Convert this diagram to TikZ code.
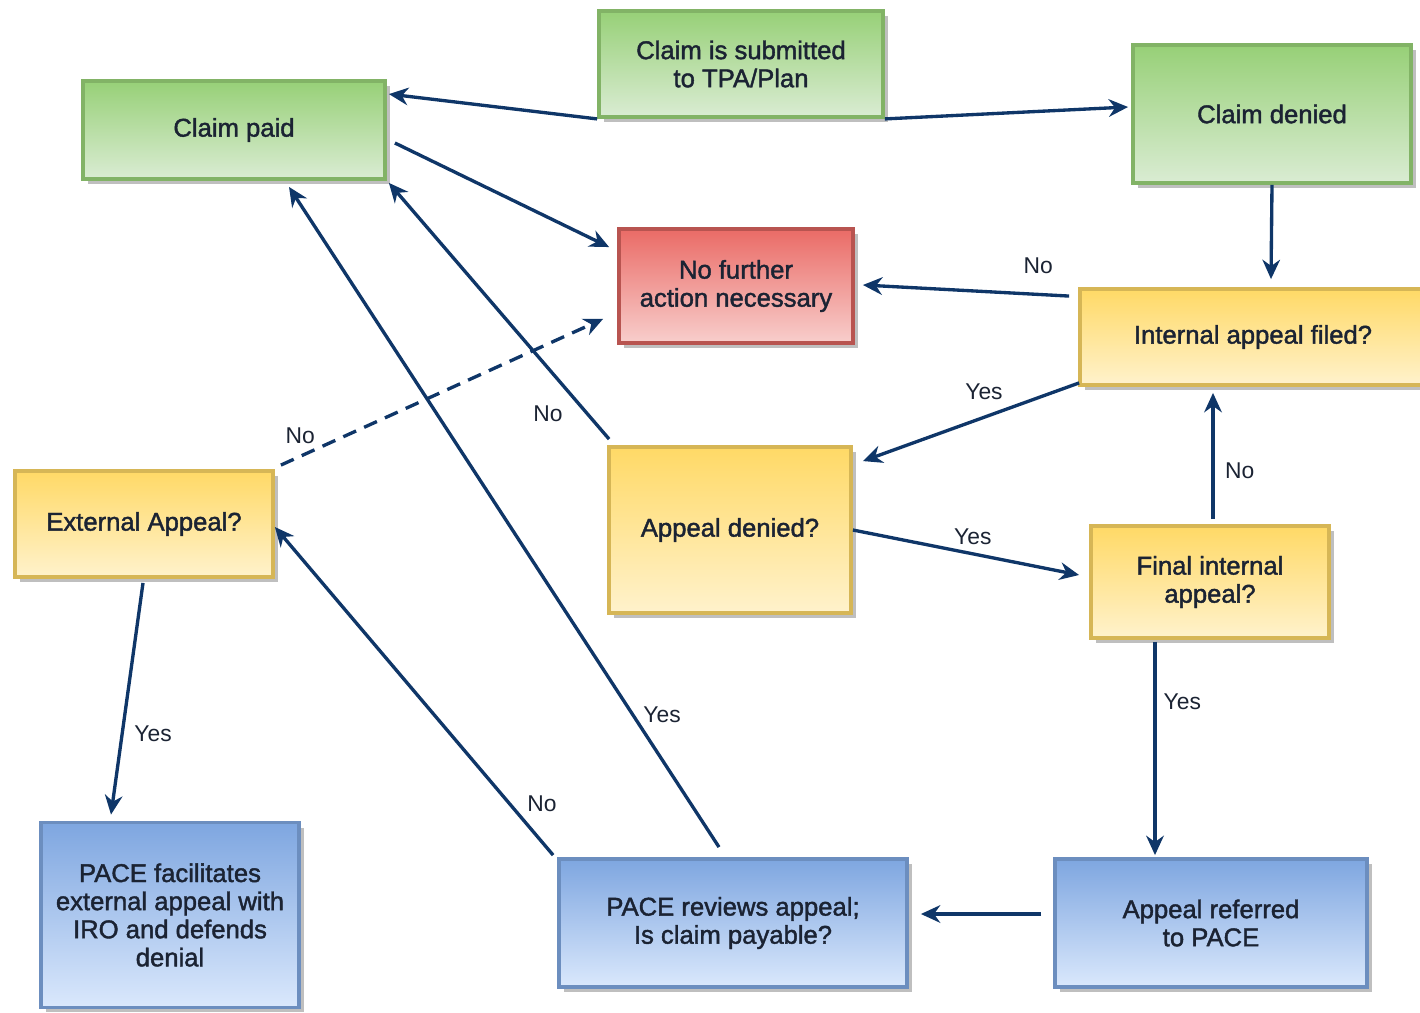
\documentclass[tikz,border=0pt]{standalone}
\usepackage{fontspec}
\setmainfont{Liberation Sans}
\newfontfamily\boxfont{Liberation Sans}[FakeBold=1.6]
\usetikzlibrary{
  arrows.meta,
  shadows
}
\definecolor{linkblue}{HTML}{0F3668}
\definecolor{inktext}{HTML}{1B2333}
\tikzset{
  ->,
  >={Stealth[length=11pt,width=10pt]},
  every edge/.style = {draw, line width=1.9pt, linkblue},
  flowbox/.style = {
    rectangle, line width=2.2pt, align=center, text=inktext,
    font=\boxfont\fontsize{14.6}{16}\selectfont,
    drop shadow={shadow xshift=0.1cm, shadow yshift=-0.1cm,
      fill=black!28, opacity=0.9}
  },
  greenbox/.style = {flowbox, draw={rgb,255:red,130;green,179;blue,102},
    top color={rgb,255:red,151;green,208;blue,119},
    bottom color={rgb,255:red,218;green,236;blue,211}},
  redbox/.style = {flowbox, draw={rgb,255:red,184;green,84;blue,80},
    top color={rgb,255:red,234;green,107;blue,102},
    bottom color={rgb,255:red,248;green,206;blue,204}},
  yellowbox/.style = {flowbox, draw={rgb,255:red,214;green,182;blue,86},
    top color={rgb,255:red,255;green,217;blue,102},
    bottom color={rgb,255:red,255;green,242;blue,204}},
  bluebox/.style = {flowbox, draw={rgb,255:red,108;green,142;blue,191},
    top color={rgb,255:red,126;green,166;blue,224},
    bottom color={rgb,255:red,218;green,232;blue,252}},
  lbl/.style = {inner sep=1pt, text=inktext,
    font=\fontsize{13}{14}\selectfont},
}

\begin{document}
\begin{tikzpicture}[x=0.02cm, y=-0.02cm]
  \useasboundingbox (0,0) rectangle (1420,1013);

  % boxes
  \node[greenbox, minimum width=5.68cm, minimum height=2.12cm] (submit) at (741,64)
    {Claim is submitted\\to TPA/Plan};
  \node[greenbox, minimum width=6.04cm, minimum height=1.96cm] (paid) at (234,130)
    {Claim paid};
  \node[greenbox, minimum width=5.56cm, minimum height=2.76cm] (denied) at (1272,114)
    {Claim denied};
  \node[redbox, minimum width=4.68cm, minimum height=2.28cm] (nofurther) at (736,286)
    {No further\\action necessary};
  \node[yellowbox, minimum width=6.92cm, minimum height=1.92cm] (internal) at (1253,337)
    {Internal appeal filed?};
  \node[yellowbox, minimum width=4.84cm, minimum height=3.32cm] (appdenied) at (730,530)
    {Appeal denied?};
  \node[yellowbox, minimum width=4.76cm, minimum height=2.24cm] (final) at (1210,582)
    {Final internal\\appeal?};
  \node[yellowbox, minimum width=5.16cm, minimum height=2.12cm] (external) at (144,524)
    {External Appeal?};
  \node[bluebox, minimum width=5.16cm, minimum height=3.70cm] (pacefac) at (170,915)
    {PACE facilitates\\external appeal with\\IRO and defends\\denial};
  \node[bluebox, minimum width=6.96cm, minimum height=2.56cm] (reviews) at (733,923)
    {PACE reviews appeal;\\Is claim payable?};
  \node[bluebox, minimum width=6.24cm, minimum height=2.56cm] (referred) at (1211,923)
    {Appeal referred\\to PACE};

  % connectors
  \path
      (submit.south west) edge ([shift={(2,15)}]paid.north east)
      (submit.south east) edge ([shift={(-3,-7)}]denied.west)
      (denied.south) edge ([shift={(18,-8)}]internal.north)
      ([shift={(8,13)}]paid.east) edge ([shift={(-8,20)}]nofurther.north west)
      ([shift={(-9,9)}]internal.north west) edge
        node[lbl, pos=0.15, above=10pt]{No} ([shift={(8,-1)}]nofurther.east)
      ([shift={(1,-4)}]internal.south west) edge
        node[lbl, pos=0.44, above=8pt]{Yes} ([shift={(10,16)}]appdenied.north east)
      ([shift={(2,-6)}]appdenied.north west) edge
        node[lbl, pos=0.1, left=12pt]{No} ([shift={(2,2)}]paid.south east)
      (appdenied.east) edge
        node[lbl, pos=0.53, above=3pt]{Yes} ([shift={(-10,-7)}]final.west)
      ([shift={(3,-5)}]final.north) edge
        node[lbl, pos=0.38, right=5pt]{No} ([shift={(-40,6)}]internal.south)
      ([shift={(-55,2)}]final.south) edge
        node[lbl, pos=0.28, right=3pt]{Yes} ([shift={(-56,-2)}]referred.north)
      ([shift={(-12,-9)}]referred.west) edge ([shift={(12,-9)}]reviews.east)
      ([shift={(-4,-2)}]reviews.north west) edge
        node[lbl, pos=0.155, right=8pt]{No} ([shift={(0,3)}]external.east)
      ([shift={(-14,-10)}]reviews.north) edge
        node[lbl, pos=0.2, right=4pt]{Yes} ([shift={(55,6)}]paid.south)
      ([shift={(-1,4)}]external.south) edge
        node[lbl, pos=0.65, right=5pt]{Yes} ([shift={(-59,-6)}]pacefac.north)
      ([shift={(6,-4)}]external.north east) edge[dash pattern=on 8pt off 5pt]
        node[lbl, pos=0.06, above=5pt]{No} ([shift={(-14,-26)}]nofurther.south west);
\end{tikzpicture}
\end{document}
